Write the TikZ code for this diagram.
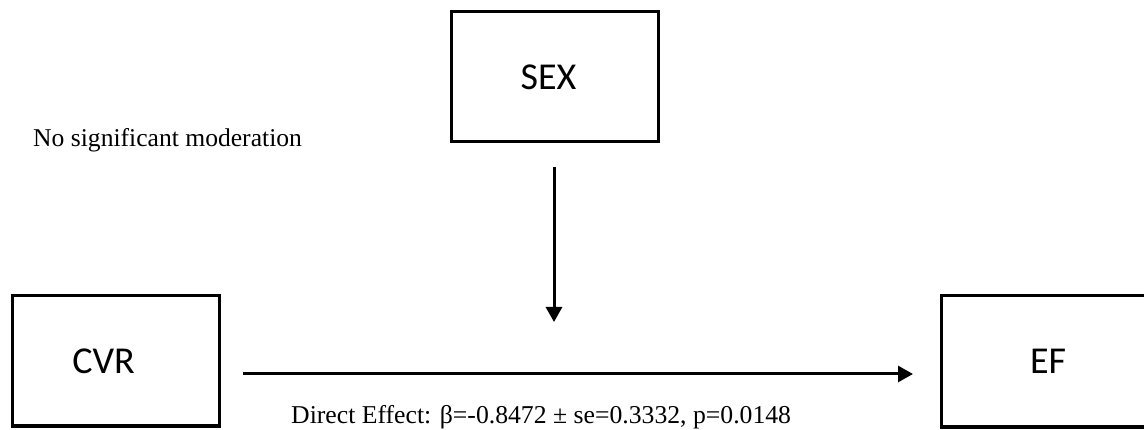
\documentclass[tikz,border=0pt]{standalone}
\usepackage{fontspec}
\setmainfont{Liberation Serif}
\newfontfamily\boxfont{Carlito}
\usetikzlibrary{arrows.meta}
\tikzset{
  varbox/.style={draw=black, line width=3pt, fill=white, minimum width=207pt, minimum height=130pt, inner sep=0pt, font=\boxfont\fontsize{38}{44}\selectfont},
  arr/.style={line width=3pt, -{Triangle[length=15pt,width=16pt]}},
  txt/.style={inner sep=0pt, anchor=base west, font=\fontsize{25.6}{30}\selectfont},
}
\begin{document}
\begin{tikzpicture}[x=1pt,y=-1pt]
\useasboundingbox (0,0) rectangle (1144,430);
\fill[white] (0,0) rectangle (1144,430);
\clip (0,0) rectangle (1144,430);
\node[varbox] (sex) at (555,77) {\hspace*{-13pt}SEX};
\node[varbox] (cvr) at (115.5,361) {\hspace*{-24pt}CVR};
\node[varbox, minimum width=214pt, minimum height=131pt] (ef) at (1048,361.5) {EF};
\coordinate (modend) at (554,322);
\draw[arr, shorten <=22.5pt, shorten >=26.5pt] ([yshift=-13pt]cvr.east) -- ([yshift=-13pt]cvr.east -| ef.west);
\draw[arr, shorten <=23.5pt] ([xshift=-1pt]sex.south) -- (modend);
\node[txt] (mod) at (33,146.7) {No significant moderation};
\node[txt, font=\fontsize{25.7}{31}\selectfont] (de) at (291,424) {Direct Effect: β=-0.8472 ± se=0.3332, p=0.0148};
\end{tikzpicture}
\end{document}
